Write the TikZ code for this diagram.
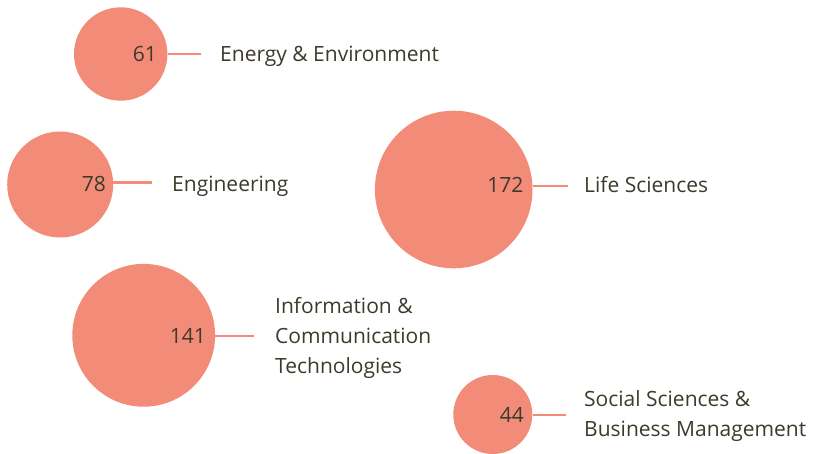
\documentclass[tikz,border=0pt]{standalone}
\usepackage{fontspec}
\setmainfont{Open Sans}
\usepackage{xcolor}
\usepackage{tikz}
\usetikzlibrary{calc}
\definecolor{salmon}{HTML}{F28C78}
\definecolor{ink}{HTML}{3D3A2B}
\tikzset{
  bubble/.style={circle, fill=salmon, inner sep=0pt},
  link/.style={draw=salmon, line width=2.2pt},
  num/.style={text=ink, font=\fontsize{21}{24}\selectfont, anchor=base east, inner sep=0pt},
  cat/.style={text=ink, font=\fontsize{21}{30}\selectfont, anchor=base west, align=left, inner sep=0pt}
}
\begin{document}
\begin{tikzpicture}[x=1pt, y=-1pt]
  \useasboundingbox (0,0) rectangle (818,453);

  % bubbles
  \node[bubble, minimum size=93.4pt] (envC) at (120.7,54) {};
  \node[bubble, minimum size=106pt] (engC) at (60.2,184.5) {};
  \node[bubble, minimum size=157.6pt] (lifeC) at (453.7,189.5) {};
  \node[bubble, minimum size=142.8pt] (ictC) at (143.7,335.3) {};
  \node[bubble, minimum size=79pt] (socC) at (492.8,414.5) {};

  % link ends
  \coordinate (envE) at (201,54.3);
  \coordinate (engE) at (152,182.5);
  \coordinate (lifeE) at (567.5,185.7);
  \coordinate (ictE) at (254,336);
  \coordinate (socE) at (566,415);

  \draw[link] (envC.east |- envE) -- (envE);
  \draw[link] (engC.east |- engE) -- (engE);
  \draw[link] (lifeC.east |- lifeE) -- (lifeE);
  \draw[link] (ictC.east |- ictE) -- (ictE);
  \draw[link] (socC.east |- socE) -- (socE);

  % counts
  \node[num] (envN) at (157,61) {61};
  \node[num] (engN) at (106,191) {78};
  \node[num] (lifeN) at (523.5,192.7) {172};
  \node[num] (ictN) at (206,343) {141};
  \node[num] (socN) at (524,422) {44};

  % categories (multi-line ones sit on their last baseline)
  \node[cat] (envL) at (220,61) {Energy \& Environment};
  \node[cat] (engL) at (172,191) {Engineering};
  \node[cat] (lifeL) at (584,192.7) {Life Sciences};
  \node[cat] (ictL) at (275,373) {Information \&\\Communication\\Technologies};
  \node[cat] (socL) at (584,436.7) {Social Sciences \&\\Business Management};
\end{tikzpicture}
\end{document}
